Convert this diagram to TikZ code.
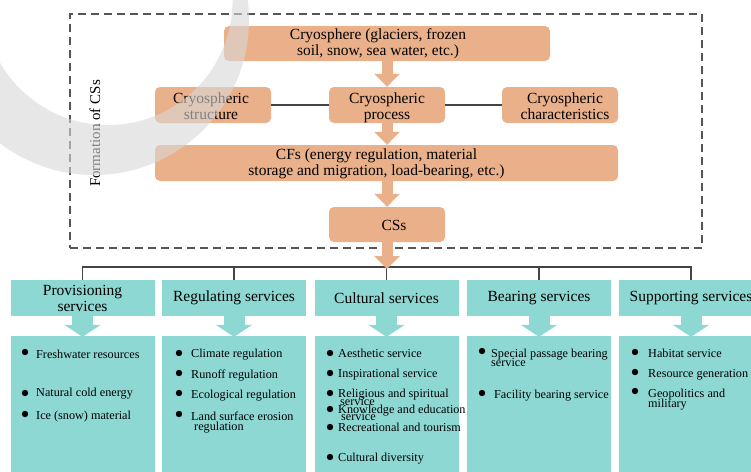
\documentclass[tikz,border=0pt]{standalone}
\usepackage{fontspec}
\setmainfont{Liberation Serif}
\usetikzlibrary{arrows.meta}
\definecolor{ora}{HTML}{EAB08A}
\definecolor{tealbox}{HTML}{8DD8D3}
\definecolor{dashgray}{HTML}{555555}
\definecolor{conngray}{HTML}{444444}
\definecolor{wmark}{HTML}{D8D8D8}
\begin{document}
\begin{tikzpicture}[x=1pt,y=-1pt,
  obox/.style={fill=ora, rounded corners=5pt, inner sep=0pt},
  otext/.style={inner sep=0pt, align=center, font=\fontsize{15.5}{16}\selectfont},
  sbox/.style={fill=tealbox, inner sep=0pt, align=center, minimum width=144pt,
    minimum height=36pt, font=\fontsize{15.5}{16}\selectfont},
  dbox/.style={fill=tealbox, inner sep=0pt, minimum width=144pt, minimum height=145pt},
  item/.style={anchor=base west, inner sep=0pt, font=\fontsize{12.2}{12}\selectfont},
  oarrow/.style={draw=ora, line width=11pt, line cap=butt, -{Triangle[width=25pt,length=13pt]}},
  tarrow/.style={draw=tealbox, line width=21pt, line cap=butt, -{Triangle[width=36pt,length=12pt]}},
  conn/.style={draw=conngray, line width=1.3pt},
  bul/.style={fill=black}
]
\useasboundingbox (0,0) rectangle (751,471);
\clip (0,0) rectangle (751,471);
\fill[white] (0,0) rectangle (751,471);

% frame
\node[draw=dashgray, line width=2pt, dash pattern=on 8pt off 5pt, minimum width=632pt,
  minimum height=234pt, inner sep=0pt] (frame) at (386,131) {};
\node[rotate=90, font=\fontsize{15}{16}\selectfont, inner sep=0pt] (flabel) at (95,133.5) {Formation of CSs};

% orange nodes
\node[obox, minimum width=326pt, minimum height=35pt] (cryo) at (387,43.5) {};
\node[obox, minimum width=116pt, minimum height=36pt] (struct) at (213,105) {};
\node[obox, minimum width=116pt, minimum height=36pt] (proc) at (387,105) {};
\node[obox, minimum width=116pt, minimum height=36pt] (charac) at (560,105) {};
\node[obox, minimum width=463pt, minimum height=36pt] (cfs) at (386.5,163) {};
\node[obox, minimum width=116pt, minimum height=35pt] (css) at (387,224.5) {};

\node[otext] (cryoT) at (378,43.5) {Cryosphere (glaciers, frozen\\soil, snow, sea water, etc.)};
\node[otext] (structT) at (211,106) {Cryospheric\\structure};
\node[otext] (procT) at (387,108) {Cryospheric\\process};
\node[otext] (characT) at (565,106) {Cryospheric\\characteristics};
\node[otext] (cfsT) at (376.5,163.5) {CFs (energy regulation, material\\storage and migration, load-bearing, etc.)};
\node[otext] (cssT) at (394,225) {CSs};

\draw[conn] (struct) -- (proc);
\draw[conn] (proc) -- (charac);
\draw[oarrow] (cryo.south) -- (proc.north);
\draw[oarrow] (proc.south) -- (cfs.north -| proc.south);
\draw[oarrow] (cfs.south -| css.north) -- (css.north);

% service boxes
\node[sbox] (prov) at (82.5,298) {Provisioning\\services};
\node[sbox] (reg) at (234,298) {Regulating services};
\node[sbox] (cult) at (386.5,298) {Cultural services};
\node[sbox] (bear) at (539,298) {Bearing services};
\node[sbox] (supp) at (691,298) {Supporting services};

\coordinate (bus) at (387,267);
\draw[conn] (prov.north) |- (bus) -| (supp.north);
\draw[conn] (reg.north) -- (reg.north |- bus);
\draw[conn] (cult.north) -- (cult.north |- bus);
\draw[conn] (bear.north) -- (bear.north |- bus);
\draw[oarrow] (css.south) -- ([yshift=-2pt]bus);

% detail boxes
\node[dbox] (provd) at (82.5,408.5) {};
\node[dbox] (regd) at (234,408.5) {};
\node[dbox] (cultd) at (386.5,408.5) {};
\node[dbox] (beard) at (539,408.5) {};
\node[dbox] (suppd) at (691,408.5) {};

\foreach \a/\b in {prov/provd, reg/regd, cult/cultd, bear/beard, supp/suppd}
  \draw[tarrow] (\a.south) -- ([yshift=-1pt]\b.north);

% provisioning items
\foreach \y in {352,393,414} \fill[bul] (25,\y) circle (3.2pt);
\node[item] (p1) at (36,358) {Freshwater resources};
\node[item] (p2) at (36,396) {Natural cold energy};
\node[item] (p3) at (36,419) {Ice (snow) material};

% regulating items
\foreach \y in {353,373,393,414} \fill[bul] (179,\y) circle (3.2pt);
\node[item] (r1) at (191,357) {Climate regulation};
\node[item] (r2) at (191,378) {Runoff regulation};
\node[item] (r3) at (191,398) {Ecological regulation};
\node[item] (r4) at (191,420) {Land surface erosion};
\node[item] (r5) at (194,430) {regulation};

% cultural items
\foreach \y in {353,373,393,409,427,457} \fill[bul] (330,\y) circle (3.2pt);
\node[item] (c1) at (338,357) {Aesthetic service};
\node[item] (c2) at (338,377) {Inspirational service};
\node[item] (c3) at (338,397) {Religious and spiritual};
\node[item] (c4) at (340,405) {service};
\node[item] (c5) at (338,413) {Knowledge and education};
\node[item] (c6) at (341,420) {service};
\node[item] (c7) at (338,431) {Recreational and tourism};
\node[item] (c8) at (338,461) {Cultural diversity};

% bearing items
\foreach \y in {351,393} \fill[bul] (482,\y) circle (3.2pt);
\node[item] (b1) at (491,357) {Special passage bearing};
\node[item] (b2) at (491,366) {service};
\node[item] (b3) at (494,398) {Facility bearing service};

% supporting items
\foreach \y in {352,372,391} \fill[bul] (635,\y) circle (3.2pt);
\node[item] (s1) at (648,357) {Habitat service};
\node[item] (s2) at (648,377) {Resource generation};
\node[item] (s3) at (648,397) {Geopolitics and};
\node[item] (s4) at (648,407) {military};

% watermark arc
\fill[wmark, opacity=0.6, even odd rule] (94,20) circle (155pt) (108,0.5) circle (124.6pt);
\end{tikzpicture}
\end{document}
